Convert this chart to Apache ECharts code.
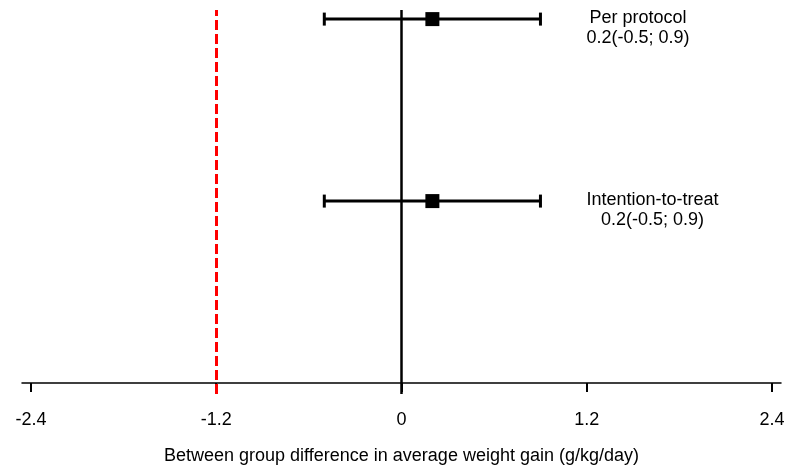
<!DOCTYPE html>
<html style="height: 100%">
    <head>
        <meta charset="utf-8">
    </head>
    <body style="height: 100%; margin: 0">
    <div id="container" style="width: 788px; height: 470px;"></div>

    <script type="text/javascript" src="https://cdn.jsdelivr.net/npm/echarts@6/dist/echarts.min.js"></script>
        <script type="text/javascript">
// forest plot data
var studies = ['Per protocol', 'Intention-to-treat'];
var estimates = [0.2, 0.2];
var lower = [-0.5, -0.5];
var upper = [0.9, 0.9];
var ciText = ['0.2(-0.5; 0.9)', '0.2(-0.5; 0.9)'];
var rows = [2, 1];
var nullValue = 0;
var marginValue = -1.2;
var xTicks = [-2.4, -1.2, 0, 1.2, 2.4];

var FONT = '"Liberation Sans", Arial, sans-serif';

var dom = document.getElementById("container");
var myChart = echarts.init(dom, null, { renderer: 'canvas' });

var ctx = document.createElement('canvas').getContext('2d');
ctx.font = '18px ' + FONT;
function blockWidth(lines) {
    var w = 0;
    lines.forEach(function (l) { w = Math.max(w, ctx.measureText(l).width); });
    return w;
}

var seriesData = studies.map(function (s, i) {
    return [estimates[i], lower[i], upper[i], rows[i], i];
});

function renderItem(params, api) {
    var est = api.value(0), lo = api.value(1), hi = api.value(2), row = api.value(3);
    var idx = api.value(4);
    var pLo = api.coord([lo, row]);
    var pHi = api.coord([hi, row]);
    var pEst = api.coord([est, row]);
    var capH = 13, sq = 14;
    var lines = [studies[idx], ciText[idx]];
    var bw = blockWidth(lines);
    var style = { stroke: '#000', lineWidth: 3 };
    return {
        type: 'group',
        children: [
            { type: 'line', shape: { x1: pLo[0], y1: pLo[1], x2: pHi[0], y2: pHi[1] }, style: style },
            { type: 'line', shape: { x1: pLo[0], y1: pLo[1] - capH / 2, x2: pLo[0], y2: pLo[1] + capH / 2 }, style: style },
            { type: 'line', shape: { x1: pHi[0], y1: pHi[1] - capH / 2, x2: pHi[0], y2: pHi[1] + capH / 2 }, style: style },
            { type: 'rect', shape: { x: pEst[0] - sq / 2, y: pEst[1] - sq / 2, width: sq, height: sq }, style: { fill: '#000' } },
            {
                type: 'text',
                x: pHi[0] + 46 + bw / 2,
                y: pHi[1] - 11,
                style: {
                    text: lines.join('\n'),
                    font: '18px ' + FONT,
                    fill: '#000',
                    align: 'center',
                    verticalAlign: 'top',
                    lineHeight: 20
                }
            }
        ]
    };
}

var option = {
    animation: false,
    grid: { left: 22, right: 7, top: 10, bottom: 72 },
    xAxis: {
        type: 'value',
        min: -2.458,
        max: 2.458,
        name: 'Between group difference in average weight gain (g/kg/day)',
        nameLocation: 'middle',
        nameGap: 53,
        nameTextStyle: { fontSize: 18, color: '#000', fontFamily: FONT },
        axisLine: { show: true, lineStyle: { color: '#000', width: 1.5 } },
        axisTick: { show: true, customValues: xTicks, length: 9, lineStyle: { color: '#000', width: 2 } },
        axisLabel: {
            customValues: xTicks,
            margin: 17,
            fontSize: 18,
            color: '#000',
            fontFamily: FONT,
            formatter: function (v) { return String(v); }
        },
        splitLine: { show: false }
    },
    yAxis: {
        type: 'value',
        min: -0.06,
        max: 2.05,
        show: false
    },
    series: [{
        type: 'line',
        data: [],
        silent: true,
        markLine: {
            silent: true,
            symbol: 'none',
            label: { show: false },
            data: [
                { xAxis: marginValue, lineStyle: { color: '#ff0000', width: 3, type: [10, 4] } },
                { xAxis: nullValue, lineStyle: { color: '#000', width: 2.5, type: 'solid' } }
            ]
        }
    }, {
        type: 'custom',
        renderItem: renderItem,
        encode: { x: [0, 1, 2], y: 3 },
        data: seriesData,
        z: 5
    }]
};

myChart.setOption(option);
        </script>
    </body>
</html>
